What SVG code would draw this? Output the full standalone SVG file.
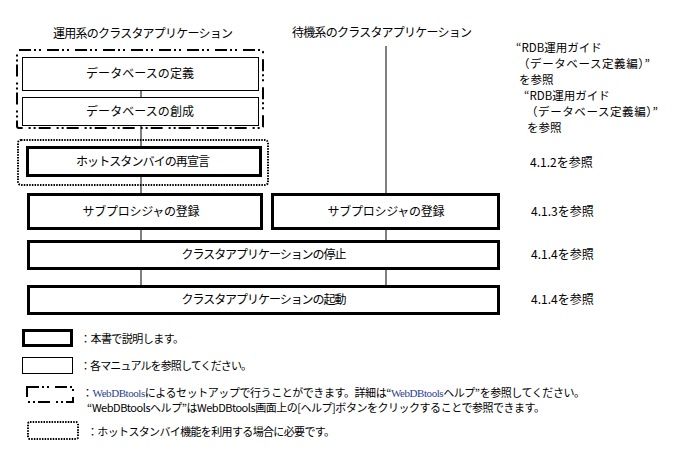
<svg xmlns="http://www.w3.org/2000/svg" width="688" height="466" viewBox="0 0 688 466">
<style>
.thin{fill:#fff;stroke:#000;stroke-width:1}
.bold{fill:#fff;stroke:#000;stroke-width:3}
.dashdot{fill:none;stroke:#000;stroke-width:2;stroke-dasharray:12 3 2 3 2 6}
.dotted{fill:none;stroke:#000;stroke-width:2;stroke-dasharray:1.5 1.2}
.ln{stroke:#000;stroke-width:1;fill:none}
.t{font-family:"Noto Sans CJK JP","Liberation Sans",sans-serif;font-size:12px;fill:#000}
.s{font-size:11px}
.r{font-size:11.5px}
.c{text-anchor:middle}
.w{font-family:"Liberation Serif",serif;fill:#2a3d8f}
</style>
<rect width="688" height="466" fill="#fff"/>
<g id="titles">
<text class="t c" x="143" y="38" textLength="180">運用系のクラスタアプリケーション</text>
<text class="t c" x="382" y="37" textLength="180">待機系のクラスタアプリケーション</text>
</g>
<g id="connectors">
<line class="ln" x1="141" y1="90" x2="141" y2="286"/>
<line class="ln" x1="386" y1="46" x2="386" y2="286"/>
</g>
<g id="group-webdbtools"><rect class="dashdot" x="17" y="50" width="246" height="78" rx="2"/></g>
<g id="group-hotstandby"><rect class="dotted" x="18" y="140" width="250" height="45" rx="3"/></g>
<g id="node-db-define">
<rect class="thin" x="22.5" y="57.5" width="236" height="33"/>
<text class="t c" x="140" y="78" textLength="108">データベースの定義</text>
</g>
<g id="node-db-create">
<rect class="thin" x="22.5" y="97.5" width="236" height="28"/>
<text class="t c" x="140" y="116" textLength="108">データベースの創成</text>
</g>
<g id="node-hotstandby">
<rect class="bold" x="27.5" y="147.5" width="233" height="28"/>
<text class="t c" x="143" y="166" textLength="134">ホットスタンバイの再宣言</text>
</g>
<g id="node-subproc-active">
<rect class="bold" x="28.5" y="194.5" width="233" height="34"/>
<text class="t c" x="141" y="216" textLength="117">サブプロシジャの登録</text>
</g>
<g id="node-subproc-standby">
<rect class="bold" x="272.5" y="194.5" width="226" height="34"/>
<text class="t c" x="386" y="216" textLength="117">サブプロシジャの登録</text>
</g>
<g id="node-stop">
<rect class="bold" x="28.5" y="241.5" width="470" height="27"/>
<text class="t c" x="264" y="259" textLength="165">クラスタアプリケーションの停止</text>
</g>
<g id="node-start">
<rect class="bold" x="28.5" y="286.5" width="470" height="27"/>
<text class="t c" x="264" y="304" textLength="165">クラスタアプリケーションの起動</text>
</g>
<g id="refs">
<text class="t r" x="516" y="52">“RDB運用ガイド</text>
<text class="t r" x="518" y="68" textLength="132">（データベース定義編）”</text>
<text class="t r" x="519" y="84">を参照</text>
<text class="t r" x="524" y="100">“RDB運用ガイド</text>
<text class="t r" x="526" y="116" textLength="132">（データベース定義編）”</text>
<text class="t r" x="527" y="132">を参照</text>
<text class="t" x="530" y="167">4.1.2を参照</text>
<text class="t" x="531" y="216">4.1.3を参照</text>
<text class="t" x="531" y="259">4.1.4を参照</text>
<text class="t" x="531" y="304">4.1.4を参照</text>
</g>
<g id="legend">
<rect class="bold" x="23.5" y="330.5" width="48" height="15"/>
<rect class="thin" x="22.5" y="357.5" width="50" height="16"/>
<rect class="dashdot" x="27" y="387" width="46" height="15"/>
<rect class="dotted" x="28" y="422" width="50" height="17" rx="2"/>
<text class="t s" x="80" y="343" textLength="104">：本書で説明します。</text>
<text class="t s" x="80" y="370" textLength="172">：各マニュアルを参照してください。</text>
<text class="t s" x="82" y="397" textLength="503">：<tspan class="w">WebDBtools</tspan>によるセットアップで行うことができます。詳細は“<tspan class="w">WebDBtools</tspan>ヘルプ”を参照してください。</text>
<text class="t s" x="87" y="412" textLength="458">“WebDBtoolsヘルプ”はWebDBtools画面上の[ヘルプ]ボタンをクリックすることで参照できます。</text>
<text class="t s" x="87" y="436" textLength="248">：ホットスタンバイ機能を利用する場合に必要です。</text>
</g>
</svg>
